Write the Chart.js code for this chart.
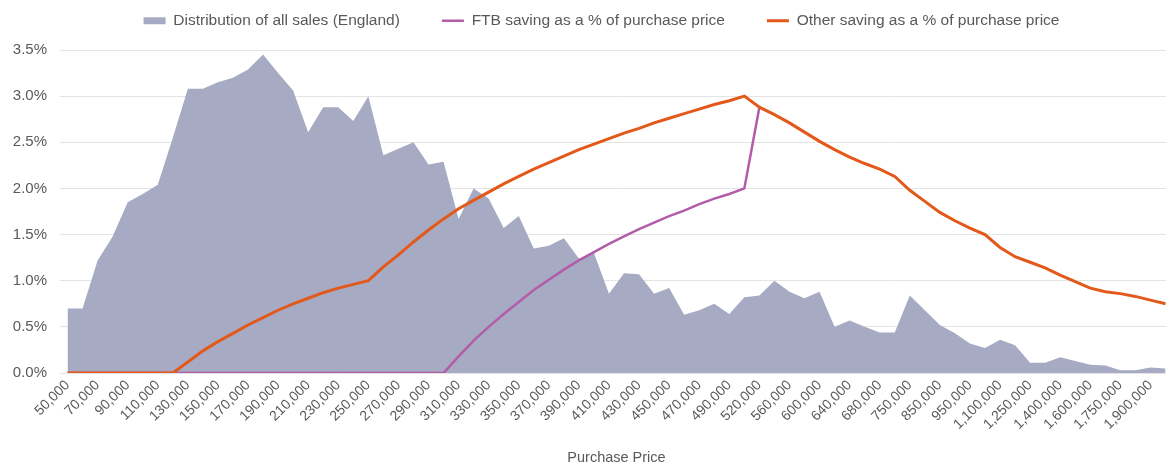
<!DOCTYPE html>
<html lang="en">
<head>
  <meta charset="UTF-8" />
  <title>Saving as a % of purchase price</title>
  <script src="https://cdn.jsdelivr.net/npm/chart.js"></script>
  <style>
    html, body {
      margin: 0;
      padding: 0;
      background: #ffffff;
      overflow: hidden;
    }
    canvas {
      display: block;
    }
  </style>
</head>
<body>

  <canvas id="chart" width="1173" height="465"></canvas>

  <script>
    // purchase price bands
    const prices = [
      '50,000', '60,000', '70,000', '80,000', '90,000', '100,000', '110,000', '120,000', '130,000', '140,000',
      '150,000', '160,000', '170,000', '180,000', '190,000', '200,000', '210,000', '220,000', '230,000', '240,000',
      '250,000', '260,000', '270,000', '280,000', '290,000', '300,000', '310,000', '320,000', '330,000', '340,000',
      '350,000', '360,000', '370,000', '380,000', '390,000', '400,000', '410,000', '420,000', '430,000', '440,000',
      '450,000', '460,000', '470,000', '480,000', '490,000', '500,000', '520,000', '540,000', '560,000', '580,000',
      '600,000', '620,000', '640,000', '660,000', '680,000', '700,000', '750,000', '800,000', '850,000', '900,000',
      '950,000', '1,000,000', '1,100,000', '1,200,000', '1,250,000', '1,300,000', '1,400,000', '1,500,000', '1,600,000', '1,700,000',
      '1,750,000', '1,800,000', '1,900,000', '2,000,000'
    ];

    // % of all sales in England
    const salesShare = [
      0.70, 0.70, 1.22, 1.48, 1.85, 1.94, 2.04, 2.55, 3.08, 3.08,
      3.15, 3.20, 3.29, 3.45, 3.25, 3.06, 2.61, 2.88, 2.88, 2.73,
      3.00, 2.36, 2.43, 2.50, 2.26, 2.29, 1.67, 2.00, 1.89, 1.57,
      1.70, 1.35, 1.38, 1.46, 1.24, 1.30, 0.86, 1.08, 1.07, 0.86,
      0.92, 0.63, 0.68, 0.75, 0.64, 0.82, 0.84, 1.00, 0.88, 0.81,
      0.88, 0.50, 0.57, 0.50, 0.44, 0.44, 0.84, 0.68, 0.52, 0.43,
      0.32, 0.27, 0.36, 0.30, 0.11, 0.11, 0.17, 0.13, 0.09, 0.08,
      0.03, 0.03, 0.06, 0.05
    ];

    // first time buyer saving, %
    const ftbSaving = [
      0, 0, 0, 0, 0, 0, 0, 0, 0, 0,
      0, 0, 0, 0, 0, 0, 0, 0, 0, 0,
      0, 0, 0, 0, 0, 0, 0.18, 0.35, 0.50, 0.64,
      0.77, 0.90, 1.01, 1.12, 1.22, 1.31, 1.40, 1.48, 1.56, 1.63,
      1.70, 1.76, 1.83, 1.89, 1.94, 2.00, 2.88, null, null, null,
      null, null, null, null, null, null, null, null, null, null,
      null, null, null, null, null, null, null, null, null, null,
      null, null, null, null
    ];

    // other buyers saving, %
    const otherSaving = [
      0, 0, 0, 0, 0, 0, 0, 0, 0.12, 0.24,
      0.34, 0.43, 0.52, 0.60, 0.68, 0.75, 0.81, 0.87, 0.92, 0.96,
      1.00, 1.15, 1.28, 1.42, 1.55, 1.67, 1.78, 1.87, 1.96, 2.05,
      2.13, 2.21, 2.28, 2.35, 2.42, 2.48, 2.54, 2.60, 2.65, 2.71,
      2.76, 2.81, 2.86, 2.91, 2.95, 3.00, 2.88, 2.80, 2.71, 2.61,
      2.51, 2.42, 2.34, 2.27, 2.21, 2.13, 1.98, 1.86, 1.74, 1.65,
      1.57, 1.50, 1.36, 1.26, 1.20, 1.14, 1.06, 0.99, 0.92, 0.88,
      0.86, 0.83, 0.79, 0.75
    ];

    const yTicks = [0, 0.5, 1.0, 1.5, 2.0, 2.5, 3.0, 3.5];

    const textColor = '#595959';
    const fontFamily = 'Arial, "Liberation Sans", Helvetica, sans-serif';

    // legend needs wide gaps between items but should sit near the top,
    // and it is centred a little right of the canvas middle
    const legendTweak = {
      id: 'legendTweak',
      beforeInit(chart) {
        const legend = chart.legend;
        const fit = legend.fit;
        legend.fit = function () {
          fit.call(this);
          this.height = 79;
        };
        const draw = legend.draw;
        legend.draw = function () {
          const c = this.ctx;
          c.save();
          c.translate(15, 0);
          draw.apply(this, arguments);
          c.restore();
        };
      }
    };

    const ctx = document.getElementById('chart').getContext('2d');

    new Chart(ctx, {
      type: 'line',
      data: {
        labels: prices,
        datasets: [
          {
            label: 'Distribution of all sales (England)',
            data: salesShare,
            backgroundColor: '#a6abc3',
            borderColor: '#a6abc3',
            borderWidth: 0,
            fill: 'origin',
            pointRadius: 0,
            pointStyle: 'rect',
            order: 3
          },
          {
            label: 'FTB saving as a % of purchase price',
            data: ftbSaving,
            borderColor: '#b35ca8',
            backgroundColor: '#b35ca8',
            borderWidth: 2.5,
            fill: false,
            pointRadius: 0,
            pointStyle: 'line',
            order: 2
          },
          {
            label: 'Other saving as a % of purchase price',
            data: otherSaving,
            borderColor: '#e2591b',
            backgroundColor: '#e2591b',
            borderWidth: 3,
            fill: false,
            pointRadius: 0,
            pointStyle: 'line',
            order: 1
          }
        ]
      },
      options: {
        responsive: false,
        animation: false,
        devicePixelRatio: 1,
        layout: {
          padding: { left: 0, top: -29, right: 0, bottom: 0 }
        },
        elements: {
          line: { tension: 0 }
        },
        plugins: {
          legend: {
            display: true,
            position: 'top',
            labels: {
              usePointStyle: true,
              pointStyleWidth: 22,
              boxHeight: 7,
              padding: 42,
              color: textColor,
              font: { family: fontFamily, size: 15.5 },
              sort: (a, b) => a.datasetIndex - b.datasetIndex
            }
          },
          tooltip: { enabled: false }
        },
        scales: {
          x: {
            offset: true,
            grid: { display: false, drawTicks: false },
            border: { display: false },
            ticks: {
              autoSkip: false,
              minRotation: 45,
              maxRotation: 45,
              padding: 4,
              color: textColor,
              font: { family: fontFamily, size: 14 },
              callback: function (value, index) {
                return index % 2 === 0 ? this.getLabelForValue(value) : '';
              }
            },
            title: {
              display: true,
              text: 'Purchase Price',
              color: textColor,
              padding: { top: 0, bottom: 0 },
              font: { family: fontFamily, size: 14.5, lineHeight: 1 }
            },
            afterFit: function (scale) {
              scale.height = 92;
              scale.paddingRight = 0;
            }
          },
          y: {
            min: 0,
            max: 3.5,
            grid: { color: '#e4e4e4', lineWidth: 1, drawTicks: false },
            border: { display: false },
            afterBuildTicks: function (scale) {
              scale.ticks = yTicks.map(v => ({ value: v }));
            },
            ticks: {
              padding: 13,
              color: textColor,
              font: { family: fontFamily, size: 15 },
              callback: function (value) {
                return value.toFixed(1) + '%';
              }
            },
            afterFit: function (scale) {
              scale.width = 60;
            }
          }
        }
      },
      plugins: [legendTweak]
    });
  </script>

</body>
</html>
